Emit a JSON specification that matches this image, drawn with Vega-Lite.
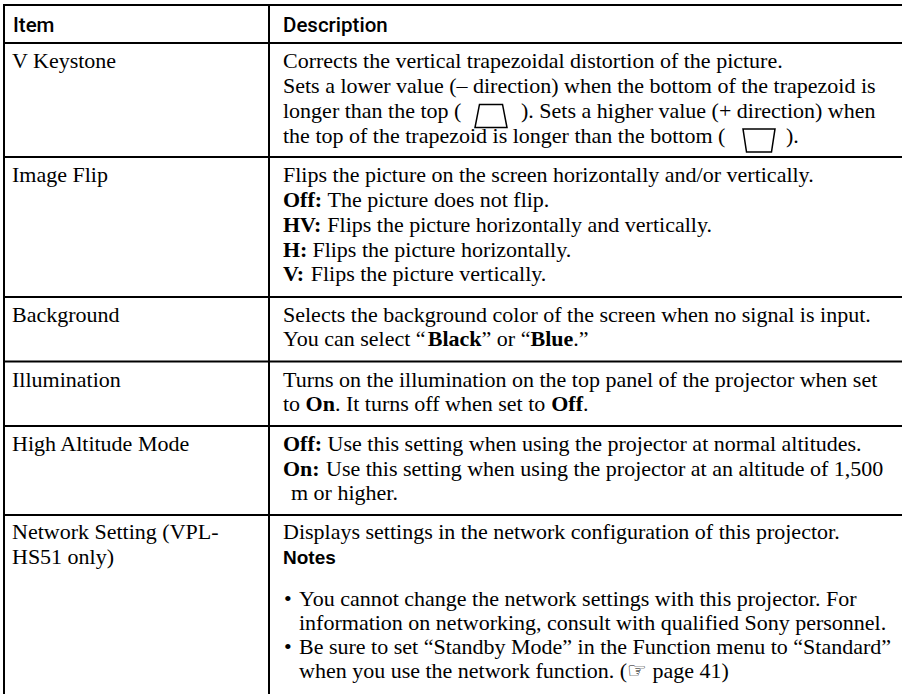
{
  "$schema": "https://vega.github.io/schema/vega-lite/v6.json",
  "width": 902,
  "height": 694,
  "padding": 0,
  "autosize": "none",
  "background": "white",
  "config": {"view": {"stroke": null}},
  "datasets": {
    "lines": [
      {"x1": 4, "x2": 902, "y1": 5, "y2": 5},
      {"x1": 4, "x2": 902, "y1": 43, "y2": 43},
      {"x1": 4, "x2": 902, "y1": 157, "y2": 157},
      {"x1": 4, "x2": 902, "y1": 297, "y2": 297},
      {"x1": 4, "x2": 902, "y1": 361.5, "y2": 361.5},
      {"x1": 4, "x2": 902, "y1": 426, "y2": 426},
      {"x1": 4, "x2": 902, "y1": 515, "y2": 515},
      {"x1": 4, "x2": 4, "y1": 4, "y2": 694},
      {"x1": 269, "x2": 269, "y1": 4, "y2": 694}
    ],
    "cells": [
      {"t": "Item", "x": 13, "y": 31.5, "f": "h"},
      {"t": "Description", "x": 283, "y": 31.5, "f": "h"},

      {"t": "V Keystone", "x": 12, "y": 68, "f": "r"},
      {"t": "Image Flip", "x": 12, "y": 182, "f": "r"},
      {"t": "Background", "x": 12, "y": 321.5, "f": "r"},
      {"t": "Illumination", "x": 12, "y": 386.5, "f": "r"},
      {"t": "High Altitude Mode", "x": 12, "y": 451, "f": "r"},
      {"t": "Network Setting (VPL-", "x": 12, "y": 539, "f": "r"},
      {"t": "HS51 only)", "x": 12, "y": 563.5, "f": "r"},

      {"t": "Corrects the vertical trapezoidal distortion of the picture.", "x": 283, "y": 68, "f": "r"},
      {"t": "Sets a lower value (– direction) when the bottom of the trapezoid is", "x": 283, "y": 93, "f": "r"},
      {"t": "longer than the top (", "x": 283, "y": 118, "f": "r"},
      {"t": "). Sets a higher value (+ direction) when", "x": 521, "y": 118, "f": "r"},
      {"t": "the top of the trapezoid is longer than the bottom (", "x": 283, "y": 142.5, "f": "r"},
      {"t": ").", "x": 786, "y": 142.5, "f": "r"},

      {"t": "Flips the picture on the screen horizontally and/or vertically.", "x": 283, "y": 182, "f": "r"},
      {"t": "Off:", "x": 283, "y": 207, "f": "b"},
      {"t": "The picture does not flip.", "x": 327.6, "y": 207, "f": "r"},
      {"t": "HV:", "x": 283, "y": 232, "f": "b"},
      {"t": "Flips the picture horizontally and vertically.", "x": 327.3, "y": 232, "f": "r"},
      {"t": "H:", "x": 283, "y": 256.5, "f": "b"},
      {"t": "Flips the picture horizontally.", "x": 312.4, "y": 256.5, "f": "r"},
      {"t": "V:", "x": 283, "y": 281, "f": "b"},
      {"t": "Flips the picture vertically.", "x": 310.7, "y": 281, "f": "r"},

      {"t": "Selects the background color of the screen when no signal is input.", "x": 283, "y": 321.5, "f": "r"},
      {"t": "You can select “", "x": 283, "y": 346, "f": "r"},
      {"t": "Black", "x": 427.8, "y": 346, "f": "b"},
      {"t": "” or “", "x": 481.6, "y": 346, "f": "r"},
      {"t": "Blue", "x": 530.5, "y": 346, "f": "b"},
      {"t": ".”", "x": 573.3, "y": 346, "f": "r"},

      {"t": "Turns on the illumination on the top panel of the projector when set", "x": 283, "y": 386.5, "f": "r"},
      {"t": "to", "x": 283, "y": 411, "f": "r"},
      {"t": "On", "x": 305.6, "y": 411, "f": "b"},
      {"t": ". It turns off when set to", "x": 334.9, "y": 411, "f": "r"},
      {"t": "Off", "x": 551.2, "y": 411, "f": "b"},
      {"t": ".", "x": 583, "y": 411, "f": "r"},

      {"t": "Off:", "x": 283, "y": 451, "f": "b"},
      {"t": "Use this setting when using the projector at normal altitudes.", "x": 327.6, "y": 451, "f": "r"},
      {"t": "On:", "x": 283, "y": 475.5, "f": "b"},
      {"t": "Use this setting when using the projector at an altitude of 1,500", "x": 326, "y": 475.5, "f": "r"},
      {"t": "m or higher.", "x": 291, "y": 500, "f": "r"},

      {"t": "Displays settings in the network configuration of this projector.", "x": 283, "y": 539, "f": "r"},
      {"t": "Notes", "x": 283, "y": 563.5, "f": "n"},
      {"t": "•", "x": 284, "y": 606, "f": "r"},
      {"t": "You cannot change the network settings with this projector. For", "x": 299, "y": 606, "f": "r"},
      {"t": "information on networking, consult with qualified Sony personnel.", "x": 299, "y": 630, "f": "r"},
      {"t": "•", "x": 284, "y": 654, "f": "r"},
      {"t": "Be sure to set “Standby Mode” in the Function menu to “Standard”", "x": 299, "y": 654, "f": "r"},
      {"t": "when you use the network function. (☞ page 41)", "x": 299, "y": 678, "f": "r"}
    ],
    "icons": [
      {"kind": "bottom longer", "x": 491, "y": 116},
      {"kind": "top longer", "x": 759, "y": 140.5}
    ]
  },
  "layer": [
    {
      "data": {"name": "lines"},
      "mark": {"type": "rule", "color": "black", "strokeWidth": 2},
      "encoding": {
        "x": {"field": "x1", "type": "quantitative", "scale": {"domain": [0, 902], "nice": false, "zero": false}, "axis": null},
        "x2": {"field": "x2"},
        "y": {"field": "y1", "type": "quantitative", "scale": {"domain": [0, 694], "nice": false, "zero": false, "reverse": true}, "axis": null},
        "y2": {"field": "y2"}
      }
    },
    {
      "data": {"name": "cells"},
      "transform": [{"filter": "datum.f === 'r'"}],
      "mark": {"type": "text", "align": "left", "baseline": "alphabetic", "font": "Liberation Serif", "fontSize": 22, "color": "black"},
      "encoding": {
        "x": {"field": "x", "type": "quantitative"},
        "y": {"field": "y", "type": "quantitative"},
        "text": {"field": "t"}
      }
    },
    {
      "data": {"name": "cells"},
      "transform": [{"filter": "datum.f === 'b'"}],
      "mark": {"type": "text", "align": "left", "baseline": "alphabetic", "font": "Liberation Serif", "fontSize": 22, "fontWeight": "bold", "color": "black"},
      "encoding": {
        "x": {"field": "x", "type": "quantitative"},
        "y": {"field": "y", "type": "quantitative"},
        "text": {"field": "t"}
      }
    },
    {
      "data": {"name": "cells"},
      "transform": [{"filter": "datum.f === 'h'"}],
      "mark": {"type": "text", "align": "left", "baseline": "alphabetic", "font": "Roboto", "fontSize": 20.5, "fontWeight": 500, "color": "black"},
      "encoding": {
        "x": {"field": "x", "type": "quantitative"},
        "y": {"field": "y", "type": "quantitative"},
        "text": {"field": "t"}
      }
    },
    {
      "data": {"name": "cells"},
      "transform": [{"filter": "datum.f === 'n'"}],
      "mark": {"type": "text", "align": "left", "baseline": "alphabetic", "font": "Liberation Sans", "fontSize": 19, "fontWeight": "bold", "color": "black"},
      "encoding": {
        "x": {"field": "x", "type": "quantitative"},
        "y": {"field": "y", "type": "quantitative"},
        "text": {"field": "t"}
      }
    },
    {
      "data": {"name": "icons"},
      "mark": {"type": "point", "filled": false, "stroke": "black", "strokeWidth": 1.5, "opacity": 1, "size": 1024},
      "encoding": {
        "x": {"field": "x", "type": "quantitative"},
        "y": {"field": "y", "type": "quantitative"},
        "shape": {
          "field": "kind",
          "type": "nominal",
          "scale": {
            "domain": ["bottom longer", "top longer"],
            "range": ["M -0.72 -0.72 L 0.72 -0.72 L 1 0.72 L -1 0.72 Z", "M -1 -0.72 L 1 -0.72 L 0.78 0.72 L -0.78 0.72 Z"]
          },
          "legend": null
        }
      }
    }
  ]
}
